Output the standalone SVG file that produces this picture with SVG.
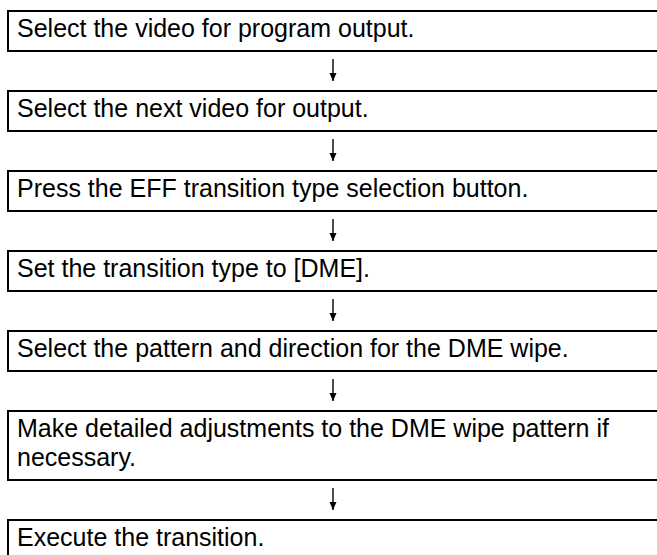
<svg xmlns="http://www.w3.org/2000/svg" width="657" height="555" viewBox="0 0 657 555">
<defs>
<style>
.box{fill:#fff;stroke:#000;stroke-width:2}
.t{font-family:"Liberation Sans",Arial,sans-serif;font-size:25px;fill:#000}
.c{stroke:#000;stroke-width:1.4;fill:none}
</style>
<marker id="ah" markerWidth="9" markerHeight="9" refX="8" refY="4.5" orient="auto" markerUnits="userSpaceOnUse" viewBox="0 0 9 9">
<path d="M0,1 L8,4.5 L0,8 Z" fill="#000"/>
</marker>
</defs>
<rect width="657" height="555" fill="#fff"/>
<g id="n1"><rect class="box" x="8" y="11" width="660" height="40"/><text class="t" x="17" y="37">Select the video for program output.</text></g>
<g id="n2"><rect class="box" x="8" y="91" width="660" height="40"/><text class="t" x="17" y="117">Select the next video for output.</text></g>
<g id="n3"><rect class="box" x="8" y="171" width="660" height="40"/><text class="t" x="17" y="197">Press the EFF transition type selection button.</text></g>
<g id="n4"><rect class="box" x="8" y="251" width="660" height="40"/><text class="t" x="17" y="277">Set the transition type to [DME].</text></g>
<g id="n5"><rect class="box" x="8" y="331" width="660" height="40"/><text class="t" x="17" y="357">Select the pattern and direction for the DME wipe.</text></g>
<g id="n6"><rect class="box" x="8" y="411" width="660" height="69"/><text class="t" x="17" y="437">Make detailed adjustments to the DME wipe pattern if</text><text class="t" x="17" y="466">necessary.</text></g>
<g id="n7"><rect class="box" x="8" y="520" width="660" height="60"/><text class="t" x="17" y="546">Execute the transition.</text></g>
<g id="connectors">
<line class="c" x1="333" y1="59" x2="333" y2="81" marker-end="url(#ah)"/>
<line class="c" x1="333" y1="139" x2="333" y2="161" marker-end="url(#ah)"/>
<line class="c" x1="333" y1="219" x2="333" y2="241" marker-end="url(#ah)"/>
<line class="c" x1="333" y1="299" x2="333" y2="321" marker-end="url(#ah)"/>
<line class="c" x1="333" y1="379" x2="333" y2="401" marker-end="url(#ah)"/>
<line class="c" x1="333" y1="488" x2="333" y2="510" marker-end="url(#ah)"/>
</g>
</svg>
